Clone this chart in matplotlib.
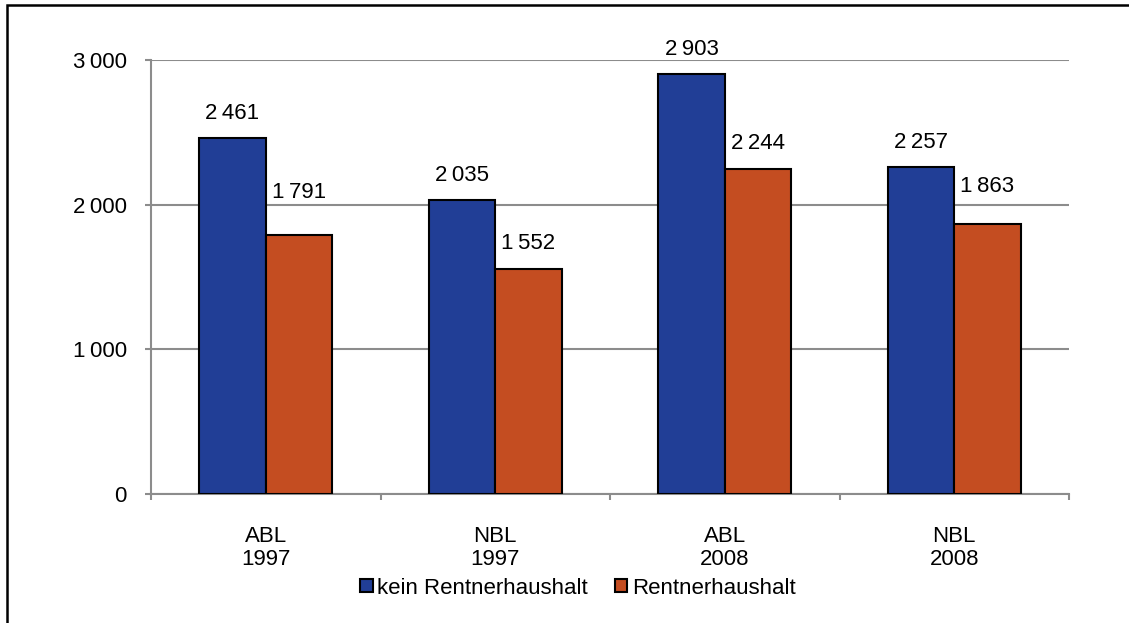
import matplotlib
matplotlib.use("Agg")
import matplotlib.pyplot as plt
from matplotlib.patches import Rectangle
import numpy as np

categories = ["ABL\n1997", "NBL\n1997", "ABL\n2008", "NBL\n2008"]
series_names = ["kein Rentnerhaushalt", "Rentnerhaushalt"]
kein_rentner = [2461, 2035, 2903, 2257]
rentner = [1791, 1552, 2244, 1863]
y_ticks = [0, 1000, 2000, 3000]

# styling
colors = ["#213E96", "#C44D21"]
label_gap_px = [[14, 14, 14, 14], [32, 15, 15, 27]]

W, H, DPI = 1129, 623, 100
plt.rcParams["font.family"] = ["Liberation Sans", "DejaVu Sans"]
fig = plt.figure(figsize=(W / DPI, H / DPI), dpi=DPI)

def fx(px):
    return px / W

def fy(py):
    return 1 - py / H

ax = fig.add_axes([fx(151), fy(494), fx(1069) - fx(151), fy(60) - fy(494)])

def fmt(v):
    s = f"{v:,}"
    return s.replace(",", "\u2009")

x = np.arange(len(categories))
bw = 0.29
fs = 16
for i, (vals, c) in enumerate(zip([kein_rentner, rentner], colors)):
    xs = x + (i - 0.5) * bw
    ax.bar(xs, vals, width=bw, color=c, edgecolor="black", linewidth=1.5,
           zorder=3, label=series_names[i])
    for j, (xx, v) in enumerate(zip(xs, vals)):
        ax.annotate(fmt(v), (xx, v), xytext=(0, label_gap_px[i][j] * 72 / DPI),
                    textcoords="offset points", ha="center", va="bottom",
                    fontsize=fs, color="black")

ax.set_xlim(-0.5, len(categories) - 0.5)
ax.set_ylim(0, 3000)
ax.set_yticks(y_ticks)
ax.set_yticklabels([fmt(v) for v in y_ticks], fontsize=fs)
ax.set_xticks(x)
ax.set_xticklabels(categories, fontsize=fs, linespacing=1.1)
ax.set_xticks(np.arange(len(categories) + 1) - 0.5, minor=True)
ax.tick_params(axis="x", which="major", length=0, pad=23)
ax.tick_params(axis="x", which="minor", length=4.5, width=1.5, color="#8C8C8C", direction="out")
ax.tick_params(axis="y", length=4.5, width=1.5, color="#8C8C8C", pad=13)
ax.yaxis.grid(True, color="#8C8C8C", linewidth=1.5, zorder=0)
ax.set_axisbelow(True)
for s in ["top", "right"]:
    ax.spines[s].set_visible(False)
for s in ["left", "bottom"]:
    ax.spines[s].set_color("#8C8C8C")
    ax.spines[s].set_linewidth(1.5)

leg = fig.legend(loc="center", bbox_to_anchor=(fx(578), fy(588)), ncol=2,
                 frameon=False, fontsize=fs, handlelength=0.55, handleheight=0.55,
                 handletextpad=0.22, columnspacing=1.2, borderpad=0)
for h in leg.legend_handles:
    h.set_edgecolor("black")
    h.set_linewidth(1.5)

fig.patches.append(Rectangle((fx(7), fy(640)), fx(1140), fy(5) - fy(640),
                             transform=fig.transFigure, fill=False,
                             edgecolor="black", linewidth=1.8))

fig.savefig("out.png", dpi=DPI)
